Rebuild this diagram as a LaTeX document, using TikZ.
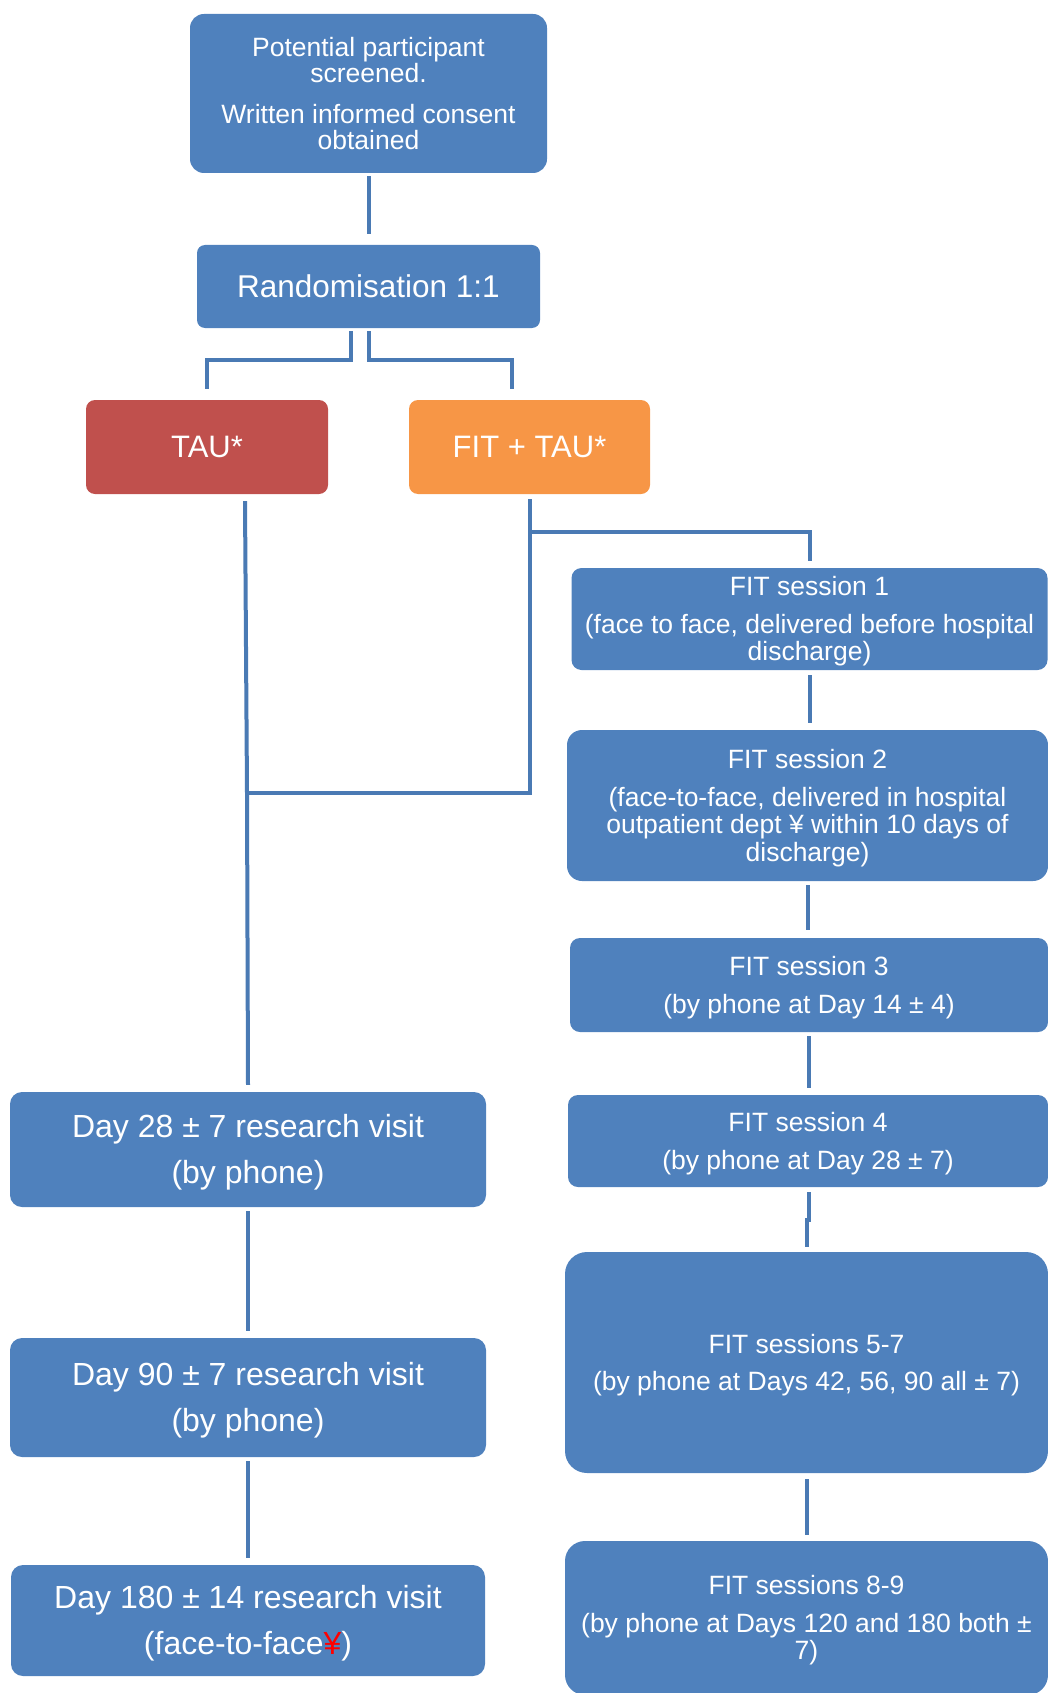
\documentclass[tikz,border=0pt]{standalone}
\usepackage{fontspec}
\setmainfont{Liberation Sans}
\definecolor{boxblue}{HTML}{4F81BD}
\definecolor{taured}{HTML}{C0504D}
\definecolor{fitorange}{HTML}{F79646}
\definecolor{lineblue}{HTML}{4A7AB4}
\newcommand{\smalltxt}{\fontsize{26.5}{27.5}\selectfont}
\newcommand{\bigtxt}{\fontsize{32}{46}\selectfont}
\newcommand{\topstrut}{\rule{0pt}{0.92em}}
\tikzset{
	box/.style={fill=boxblue, text=white, align=center, inner sep=0pt, rounded corners=10pt},
	conn/.style={draw=lineblue, line width=4pt}
}
\begin{document}
\begin{tikzpicture}[x=1pt,y=-1pt]
		\useasboundingbox (0,0) rectangle (1048,1693);
		
		\node[box, minimum width=357, minimum height=159, rounded corners=14pt, font=\fontsize{26.5}{26.5}\selectfont] (consent) at (368.5,93.5) {Potential participant\\screened.\\[14pt]Written informed consent\\obtained};
		\node[box, minimum width=343, minimum height=83, rounded corners=8pt, font=\fontsize{31.5}{31.5}\selectfont] (rand) at (368.5,286.5) {Randomisation 1:1};
		\node[box, fill=taured, minimum width=242, minimum height=94, rounded corners=9pt, font=\fontsize{31}{31}\selectfont] (tau) at (207,447) {TAU*};
		\node[box, fill=fitorange, minimum width=241, minimum height=94, rounded corners=9pt, font=\fontsize{31}{31}\selectfont] (fittau) at (529.5,447) {FIT + TAU*};
		
		\node[box, minimum width=476, minimum height=102, font=\smalltxt] (s1) at (809.5,619) {\topstrut FIT session 1\\[10pt](face to face, delivered before hospital\\discharge)};
		\node[box, minimum width=481, minimum height=151, rounded corners=15pt, font=\smalltxt] (s2) at (807.5,805.5) {\topstrut FIT session 2\\[10pt](face-to-face, delivered in hospital\\outpatient dept ¥ within 10 days of\\discharge)};
		\node[box, minimum width=478, minimum height=94, font=\smalltxt] (s3) at (809,985) {\topstrut FIT session 3\\[10pt](by phone at Day 14 ± 4)};
		\node[box, minimum width=480, minimum height=92, font=\smalltxt] (s4) at (808,1141) {\topstrut FIT session 4\\[10pt](by phone at Day 28 ± 7)};
		\node[box, minimum width=483, minimum height=221, rounded corners=22pt, font=\smalltxt] (s57) at (806.5,1362.5) {\topstrut FIT sessions 5-7\\[10pt](by phone at Days 42, 56, 90 all ± 7)};
		\node[box, minimum width=483, minimum height=154, rounded corners=20pt, font=\smalltxt] (s89) at (806.5,1618) {\topstrut FIT sessions 8-9\\[10pt](by phone at Days 120 and 180 both ±\\7)};
		
		\node[box, minimum width=476, minimum height=115, rounded corners=12pt, font=\bigtxt] (d28) at (248,1149.5) {\topstrut Day 28 ± 7 research visit\\(by phone)};
		\node[box, minimum width=476, minimum height=119, rounded corners=12pt, font=\bigtxt] (d90) at (248,1397.5) {\topstrut Day 90 ± 7 research visit\\(by phone)};
		\node[box, minimum width=474, minimum height=111, rounded corners=12pt, font=\bigtxt] (d180) at (248,1620.5) {\topstrut Day 180 ± 14 research visit\\(face-to-face\textcolor{red}{¥})};
		
		\coordinate (join) at (247,793);
		
		\draw[conn] ([yshift=-3pt]consent.south) -- ([yshift=11pt]rand.north);
		\draw[conn] ([xshift=-18pt,yshift=-3pt]rand.south) -- ++(0,29) -| ([yshift=11pt]tau.north);
		\draw[conn] ([yshift=-3pt]rand.south) -- ++(0,29) -| ([xshift=-18pt,yshift=11pt]fittau.north);
		\draw[conn] ([xshift=38pt,yshift=-7pt]tau.south) -- (join) -- ([yshift=7pt]d28.north);
		\draw[conn] ([yshift=-5pt]fittau.south) |- (join);
		\draw[conn] ([yshift=-5pt]fittau.south) -- ++(0,33) -| ([yshift=7pt]s1.north);
		\draw[conn] ([yshift=-5pt]s1.south) -- ([yshift=7pt]s1.south |- s2.north);
		\draw[conn] ([yshift=-4pt]s2.south) -- ([yshift=8pt]s2.south |- s3.north);
		\draw[conn] ([yshift=-4pt]s3.south) -- ([yshift=7pt]s3.south |- s4.north);
		\draw[conn] ([xshift=1pt,yshift=-5pt]s4.south) -- ++(0,28) -| ([yshift=5pt]s57.north);
		\draw[conn] ([yshift=-6pt]s57.south) -- ([yshift=6pt]s89.north);
		\draw[conn] ([yshift=-4pt]d28.south) -- ([yshift=7pt]d90.north);
		\draw[conn] ([yshift=-4pt]d90.south) -- ([yshift=7pt]d180.north);
	\end{tikzpicture}
\end{document}
